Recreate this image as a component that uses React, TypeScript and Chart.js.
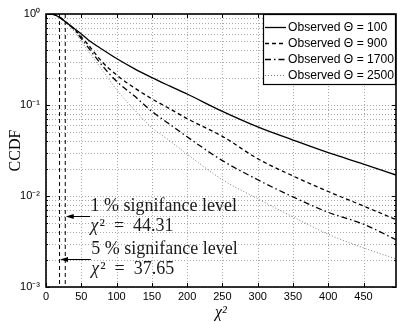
import React, { useEffect, useRef } from 'react';
import { Chart, registerables } from 'chart.js';

Chart.register(...registerables);

// ---------- data ----------
const chiSquare = [0, 10, 20, 30, 40, 50, 60, 80, 100, 125, 150, 175, 200, 250, 300, 350, 400, 450, 496];
const ccdfTheta100 = [1, 0.989, 0.912, 0.794, 0.692, 0.603, 0.519, 0.407, 0.324, 0.251, 0.2, 0.162, 0.132, 0.0851, 0.0575, 0.0412, 0.0299, 0.0224, 0.017];
const ccdfTheta900 = [1, 0.989, 0.912, 0.794, 0.684, 0.562, 0.457, 0.295, 0.214, 0.155, 0.117, 0.0912, 0.0708, 0.0452, 0.0257, 0.0166, 0.0112, 0.00776, 0.0055];
const ccdfTheta1700 = [1, 0.989, 0.912, 0.794, 0.676, 0.537, 0.427, 0.269, 0.182, 0.126, 0.0851, 0.0617, 0.0447, 0.0245, 0.0151, 0.00977, 0.00661, 0.0049, 0.00331];
const ccdfTheta2500 = [1, 0.989, 0.891, 0.776, 0.646, 0.501, 0.389, 0.24, 0.148, 0.0891, 0.0562, 0.0407, 0.0288, 0.0151, 0.00933, 0.00589, 0.0038, 0.00269, 0.00204];
const seriesLabels = ['Observed \u0398 = 100', 'Observed \u0398 = 900', 'Observed \u0398 = 1700', 'Observed \u0398 = 2500'];

const thresholdX = [27.3, 19.2]; // vertical dashed threshold lines
const arrowY = [0.0061, 0.00202];
const arrowTailX = [62.5, 63.5];
const levelLabels = ['1 % signifance level', '5 % signifance level'];
const valueSymbol = '\u03C7';
const valueLabels = ['\u00B2 = 44.31', '\u00B2 = 37.65'];

const xTickValues = [0, 50, 100, 150, 200, 250, 300, 350, 400, 450];
const xMin = 0;
const xMax = 496;
const yMin = 0.001;
const yMax = 1;
const yTickLabels: Record<string, string> = { '0': '10\u2070', '-1': '10\u207B\u00B9', '-2': '10\u207B\u00B2', '-3': '10\u207B\u00B3' };
const xTitle = '\u03C7\u00B2';
const yTitle = 'CCDF';

// ---------- styles ----------
const seriesStyles = [
  { color: '#000000', dash: [] as number[], width: 1.3 },
  { color: '#000000', dash: [4, 3], width: 1.3 },
  { color: '#000000', dash: [6, 3, 1.5, 3], width: 1.3 },
  { color: '#7a7a7a', dash: [1, 2], width: 1 },
];
const SANS = '"Liberation Sans", Arial, Helvetica, sans-serif';
const SERIF = '"Liberation Serif", "Times New Roman", serif';
const GRID_COLOR = '#a8a8a8';

const isDecade = (v: number) => Math.abs(Math.log10(v) - Math.round(Math.log10(v))) < 1e-9;

const gridPlugin = {
  id: 'dottedGrid',
  beforeDatasetsDraw(chart: any) {
    const { ctx, chartArea: a, scales } = chart;
    const x = scales.x;
    const y = scales.y;
    ctx.save();
    ctx.strokeStyle = GRID_COLOR;
    ctx.lineWidth = 1;
    ctx.setLineDash([1, 2]);
    ctx.beginPath();
    xTickValues.forEach((v) => {
      const px = Math.round(x.getPixelForValue(v)) + 0.5;
      ctx.moveTo(px, a.top);
      ctx.lineTo(px, a.bottom);
    });
    y.ticks.forEach((t: any) => {
      const py = Math.round(y.getPixelForValue(t.value)) + 0.5;
      ctx.moveTo(a.left, py);
      ctx.lineTo(a.right, py);
    });
    ctx.stroke();
    ctx.restore();
  },
};

const overlayPlugin = {
  id: 'overlay',
  afterDatasetsDraw(chart: any) {
    const { ctx, chartArea: a, scales } = chart;
    const x = scales.x;
    const y = scales.y;
    ctx.save();
    ctx.setLineDash([]);
    ctx.strokeStyle = '#000';
    ctx.lineWidth = 1;
    // inward tick marks
    ctx.beginPath();
    xTickValues.forEach((v) => {
      const px = Math.round(x.getPixelForValue(v)) + 0.5;
      ctx.moveTo(px, a.bottom);
      ctx.lineTo(px, a.bottom - 4);
      ctx.moveTo(px, a.top);
      ctx.lineTo(px, a.top + 4);
    });
    y.ticks.forEach((t: any) => {
      const py = Math.round(y.getPixelForValue(t.value)) + 0.5;
      const len = isDecade(t.value) ? 4 : 2;
      ctx.moveTo(a.left, py);
      ctx.lineTo(a.left + len, py);
      ctx.moveTo(a.right, py);
      ctx.lineTo(a.right - len, py);
    });
    ctx.stroke();
    // box
    ctx.lineWidth = 1.6;
    ctx.strokeRect(a.left, a.top, a.right - a.left, a.bottom - a.top);

    // arrows + annotations
    ctx.lineWidth = 1;
    ctx.fillStyle = '#000';
    arrowY.forEach((yv, i) => {
      const py = Math.round(y.getPixelForValue(yv)) + 0.5;
      const tail = x.getPixelForValue(arrowTailX[i]);
      const head = x.getPixelForValue(thresholdX[i]) + 0.5;
      ctx.beginPath();
      ctx.moveTo(tail, py);
      ctx.lineTo(head + 6, py);
      ctx.stroke();
      ctx.beginPath();
      ctx.moveTo(head, py);
      ctx.lineTo(head + 8, py - 2.5);
      ctx.lineTo(head + 8, py + 2.5);
      ctx.closePath();
      ctx.fill();
      ctx.textAlign = 'left';
      ctx.textBaseline = 'middle';
      ctx.fillStyle = '#1a1a1a';
      ctx.font = `18px ${SERIF}`;
      ctx.fillText(levelLabels[i], tail + 0.5, py - 10.5);
      ctx.font = `italic 18px ${SERIF}`;
      ctx.fillText(valueSymbol, tail + 0.5, py + 9.5);
      const sw = ctx.measureText(valueSymbol).width;
      ctx.font = `18px ${SERIF}`;
      const parts = valueLabels[i];
      ctx.fillText(parts.slice(0, 1), tail + 1.5 + sw, py + 9.5);
      const sup = ctx.measureText(parts.slice(0, 1)).width;
      ctx.fillText(parts.slice(1).replace(' = ', '  =  '), tail + 1.5 + sw + sup, py + 9.5);
      ctx.fillStyle = '#000';
    });

    // legend
    const w = 133;
    const h = 71;
    const lx = a.right - w;
    const ly = a.top;
    ctx.fillStyle = '#fff';
    ctx.fillRect(lx, ly, w, h);
    ctx.lineWidth = 1.2;
    ctx.strokeStyle = '#000';
    ctx.setLineDash([]);
    ctx.strokeRect(lx + 0.5, ly + 0.5, w - 1, h - 1);
    // fit legend text to the width seen in the reference
    ctx.font = `12px ${SANS}`;
    const mw = ctx.measureText(seriesLabels[3]).width;
    const fs = Math.max(10, Math.min(16, (12 * 106) / mw));
    ctx.font = `${fs.toFixed(2)}px ${SANS}`;
    ctx.textAlign = 'left';
    ctx.textBaseline = 'middle';
    chart.data.datasets.slice(0, 4).forEach((ds: any, i: number) => {
      const cy = Math.round(ly + 12.5 + i * 16.1) + 0.5;
      ctx.strokeStyle = ds.borderColor;
      ctx.lineWidth = ds.borderWidth;
      ctx.setLineDash(ds.borderDash || []);
      ctx.beginPath();
      ctx.moveTo(lx + 2, cy);
      ctx.lineTo(lx + 23, cy);
      ctx.stroke();
      ctx.fillStyle = '#000';
      ctx.fillText(ds.label, lx + 25, cy);
    });
    ctx.restore();
  },
};

export default function App() {
  const ref = useRef<HTMLCanvasElement | null>(null);

  useEffect(() => {
    if (!ref.current) return;
    const curves = [ccdfTheta100, ccdfTheta900, ccdfTheta1700, ccdfTheta2500];
    const datasets: any[] = curves.map((arr, i) => ({
      label: seriesLabels[i],
      data: chiSquare.map((c, j) => ({ x: c, y: arr[j] })),
      borderColor: seriesStyles[i].color,
      borderDash: seriesStyles[i].dash,
      borderWidth: seriesStyles[i].width,
      pointRadius: 0,
      fill: false,
      cubicInterpolationMode: 'monotone',
    }));
    thresholdX.forEach((t) => {
      datasets.push({
        label: 'threshold',
        data: [{ x: t, y: yMax }, { x: t, y: yMin }],
        borderColor: '#000',
        borderDash: [4, 3],
        borderWidth: 1,
        pointRadius: 0,
        fill: false,
      });
    });

    const chart = new Chart(ref.current, {
      type: 'line',
      data: { datasets },
      options: {
        animation: false,
        responsive: false,
        maintainAspectRatio: false,
        devicePixelRatio: 1,
        layout: { padding: { top: 14, right: 1, left: 0, bottom: 0 } },
        plugins: { legend: { display: false }, tooltip: { enabled: false } },
        scales: {
          x: {
            type: 'linear',
            min: xMin,
            max: xMax,
            afterBuildTicks: (s: any) => {
              s.ticks = xTickValues.map((v) => ({ value: v }));
            },
            afterFit: (s: any) => {
              s.height = 35;
            },
            grid: { display: false, drawTicks: false },
            border: { display: false },
            ticks: {
              padding: 3,
              maxRotation: 0,
              autoSkip: false,
              color: '#000',
              font: { family: SANS, size: 11 },
            },
            title: {
              display: true,
              text: xTitle,
              color: '#000',
              font: { family: SERIF, size: 16, style: 'italic' },
              padding: { top: 0, bottom: 0 },
            },
          },
          y: {
            type: 'logarithmic',
            min: yMin,
            max: yMax,
            afterBuildTicks: (s: any) => {
              const t: any[] = [];
              for (let e = -3; e < 0; e++) {
                for (let m = 1; m < 10; m++) t.push({ value: m * Math.pow(10, e) });
              }
              t.push({ value: 1 });
              s.ticks = t;
            },
            afterFit: (s: any) => {
              s.width = 46;
            },
            grid: { display: false, drawTicks: false },
            border: { display: false },
            ticks: {
              padding: 6,
              autoSkip: false,
              color: '#000',
              font: { family: SANS, size: 11 },
              callback: (v: any) => {
                const n = Number(v);
                if (!isDecade(n)) return '';
                return yTickLabels[String(Math.round(Math.log10(n)))] ?? '';
              },
            },
            title: {
              display: true,
              text: yTitle,
              color: '#000',
              font: { family: SERIF, size: 16 },
              padding: { top: 6, bottom: 0 },
            },
          },
        },
      },
      plugins: [gridPlugin, overlayPlugin],
    } as any);

    return () => chart.destroy();
  }, []);

  return (
    <div style={{ position: 'absolute', left: 0, top: 0, width: 397, height: 322, background: '#fff' }}>
      <canvas ref={ref} width={397} height={322} style={{ width: 397, height: 322, display: 'block' }} />
    </div>
  );
}
